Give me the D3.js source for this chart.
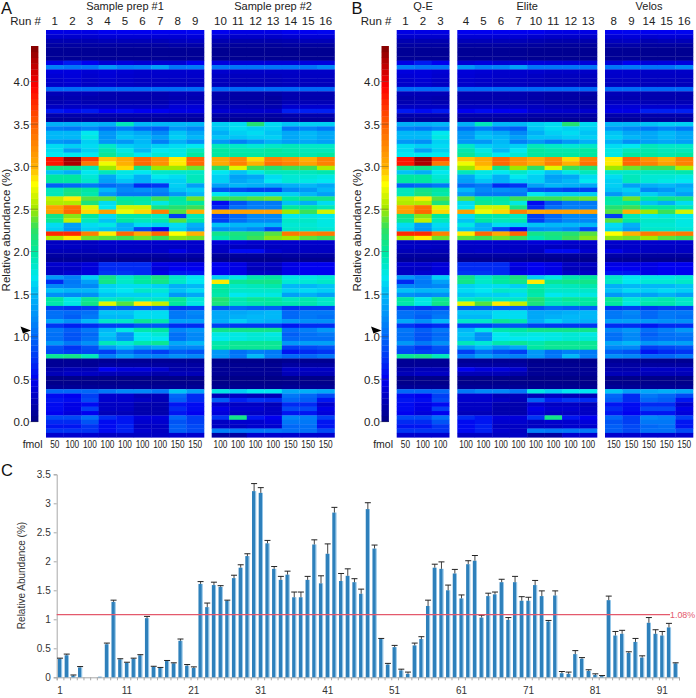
<!DOCTYPE html>
<html><head><meta charset="utf-8">
<script src="https://cdnjs.cloudflare.com/ajax/libs/d3/7.8.5/d3.min.js"></script>
<style>html,body{margin:0;padding:0;background:#fff}svg{display:block}text{font-family:"Liberation Sans",Arial,sans-serif}</style>
</head><body><div id="c"></div>
<script>
// run numbers and heat values: one row per protein (top to bottom), one value per run 1..16
const runs=d3.range(1,17);
const fmol={1:50,2:100,3:100,4:100,5:100,6:100,7:100,8:150,9:150,10:100,11:100,12:100,13:100,14:150,15:150,16:150};
const heat=[
[.45,.45,.45,.5,.5,.5,.5,.5,.52,.5,.45,.45,.45,.5,.5,.52],
[.35,.35,.35,.38,.38,.38,.38,.38,.4,.35,.33,.33,.33,.36,.38,.38],
[.22,.22,.22,.25,.25,.25,.25,.28,.3,.22,.2,.2,.2,.22,.25,.25],
[.15,.15,.15,.15,.15,.15,.15,.18,.18,.14,.12,.12,.12,.14,.14,.14],
[.1,.1,.1,.1,.1,.1,.1,.1,.1,.08,.08,.08,.08,.08,.08,.08],
[.1,.1,.1,.1,.1,.1,.1,.1,.1,.08,.08,.08,.08,.08,.08,.08],
[.1,.1,.1,.1,.1,.1,.1,.1,.1,.08,.08,.08,.08,.08,.08,.08],
[.45,.62,.5,.38,.42,.38,.38,.38,.5,.42,.4,.4,.4,.4,.42,.42],
[1.15,1.08,1.08,1.3,1.15,1.18,1.35,1.08,1.12,1.08,1.08,1.08,1.08,1.08,1.08,1.2],
[.42,.42,.38,.4,.38,.35,.35,.35,.35,.35,.32,.32,.32,.32,.32,.32],
[.38,.4,.35,.38,.35,.33,.33,.33,.33,.3,.28,.28,.28,.3,.3,.3],
[.35,.38,.32,.35,.33,.3,.3,.3,.3,.28,.26,.26,.26,.28,.28,.28],
[.33,.35,.3,.33,.3,.28,.28,.28,.28,.26,.24,.24,.24,.26,.26,.26],
[1.02,1.02,1.02,1.02,1.02,1.02,1.02,1.02,1.02,1.0,1.0,1.0,1.0,1.0,1.0,1.0],
[.25,.25,.25,.22,.22,.22,.22,.25,.25,.2,.18,.18,.18,.22,.22,.22],
[.2,.22,.2,.2,.2,.2,.2,.22,.22,.18,.16,.16,.14,.2,.2,.2],
[.22,.25,.22,.22,.22,.22,.22,.28,.28,.2,.18,.18,.16,.24,.24,.24],
[.3,.3,.3,.3,.3,.3,.3,.38,.38,.28,.25,.24,.22,.35,.35,.35],
[.62,.55,.62,.5,.55,.5,.5,.45,.45,.36,.34,.34,.34,.65,.65,.65],
[.2,.2,.2,.2,.2,.2,.2,.2,.2,.18,.18,.18,.16,.2,.2,.2],
[.12,.12,.12,.12,.12,.12,.12,.12,.12,.1,.1,.1,.1,.12,.12,.12],
[1.45,1.45,1.5,1.45,1.9,1.5,1.5,1.5,1.5,1.6,1.65,2.2,1.65,1.55,1.6,1.6],
[1.15,1.1,1.2,1.05,1.15,1.0,.95,1.3,1.2,1.55,1.65,1.6,1.6,1.1,1.2,1.1],
[1.5,1.5,1.7,1.3,1.5,1.4,1.2,1.55,1.4,1.45,1.6,1.65,1.55,1.4,1.5,1.4],
[1.5,1.5,1.75,1.3,1.55,1.5,1.35,1.6,1.5,1.55,1.55,1.6,1.6,1.4,1.5,1.4],
[1.3,1.25,1.6,1.3,1.3,1.5,1.15,1.45,1.25,1.3,1.15,1.3,1.45,1.35,1.4,1.35],
[1.65,1.6,1.65,1.85,1.6,1.55,1.6,1.65,1.7,1.9,1.85,1.8,1.85,1.9,1.85,1.85],
[1.65,1.35,1.6,1.95,1.75,1.5,1.7,1.75,1.9,2.0,1.95,1.95,2.0,1.95,1.9,1.9],
[1.7,1.7,1.7,2.05,1.85,1.7,1.8,1.75,2.0,2.0,2.0,2.0,2.0,2.0,1.95,2.0],
[3.85,4.3,3.65,2.95,3.05,3.45,3.2,2.85,3.45,3.05,3.25,2.9,3.3,3.2,3.0,3.3],
[3.85,4.25,3.35,2.75,3.0,3.45,3.2,2.85,3.45,3.05,3.3,3.0,3.4,3.3,3.1,3.3],
[2.1,2.1,1.9,2.5,2.9,2.1,2.5,2.5,2.4,2.25,2.7,2.3,2.2,2.3,2.3,2.55],
[1.55,1.45,1.7,1.9,1.75,1.7,1.85,1.85,1.85,1.7,1.55,1.75,1.9,1.9,1.9,1.95],
[2.0,2.0,1.8,1.4,1.65,1.45,1.7,1.65,1.9,1.6,1.35,1.4,1.65,1.8,1.8,1.75],
[2.0,2.0,1.85,1.35,1.55,1.45,1.6,1.6,1.9,1.6,1.4,1.5,1.7,1.8,1.75,1.7],
[.95,1.0,1.1,1.0,1.1,.7,.75,1.6,1.35,1.35,1.5,1.45,1.4,1.45,1.5,1.4],
[1.9,2.1,2.0,1.5,1.2,1.25,1.2,1.55,1.6,.9,.85,.8,.8,1.2,1.3,1.5],
[1.9,2.15,1.95,1.3,1.1,1.1,1.1,1.3,1.5,1.7,1.6,1.6,1.6,1.6,1.5,1.35],
[2.6,2.85,2.35,2.35,2.0,2.0,2.3,2.0,2.4,2.3,2.3,2.35,2.4,2.0,2.1,2.1],
[2.55,2.55,2.15,1.65,2.05,1.95,1.75,1.95,2.0,.55,.9,1.1,1.1,1.55,1.45,1.65],
[3.1,3.4,2.7,1.7,2.65,2.65,2.1,2.2,2.3,.7,1.05,1.15,1.15,2.0,2.0,1.9],
[3.1,3.45,2.9,3.1,2.75,2.9,3.3,2.35,3.0,3.05,3.1,3.1,3.1,2.5,2.3,2.65],
[2.1,2.45,2.0,1.65,1.95,1.95,1.85,.8,1.9,.8,1.0,1.2,1.2,1.7,1.75,1.7],
[2.05,2.6,1.9,1.55,2.0,1.9,1.95,2.35,2.0,.8,1.05,1.2,1.2,1.85,1.85,1.75],
[1.65,1.35,1.65,1.75,1.45,1.65,1.6,1.65,1.45,1.55,1.5,1.5,1.5,1.8,1.8,1.75],
[1.6,1.3,1.6,1.55,1.45,.85,.55,1.6,1.35,1.25,1.3,1.2,.85,1.85,1.85,1.8],
[3.75,3.75,3.3,2.85,3.45,3.05,3.45,2.8,3.0,2.1,2.15,2.2,2.35,3.35,3.3,3.35],
[2.55,2.85,2.4,2.35,2.3,2.4,2.3,2.45,2.4,1.95,2.1,2.3,2.45,2.5,2.35,2.3],
[.3,.3,.3,.35,.35,.35,.35,.35,.35,.4,.4,.35,.35,.35,.35,.35],
[.3,.3,.28,.3,.3,.3,.3,.3,.32,.3,.28,.28,.28,.3,.3,.3],
[.25,.25,.25,.3,.32,.32,.32,.45,.35,.3,.55,.55,.35,.3,.3,.3],
[.15,.15,.15,.15,.15,.15,.15,.18,.18,.12,.12,.12,.12,.15,.15,.15],
[.1,.1,.1,.08,.08,.08,.08,.1,.1,.06,.06,.06,.06,.08,.08,.08],
[.35,.35,.4,.7,.7,.7,.45,.45,.45,.5,.45,.3,.3,.45,.5,.5],
[.3,.3,.4,.7,.7,.7,.4,.5,.5,.5,.45,.25,.25,.45,.5,.5],
[.3,.35,.4,.75,.75,.7,.45,.6,.6,.5,.45,.3,.3,.45,.5,.5],
[1.3,1.15,1.6,2.1,1.85,2.0,2.15,1.85,1.7,1.6,1.75,1.95,2.0,1.75,1.75,1.8],
[.7,1.1,1.35,2.1,1.85,2.0,2.1,1.85,1.7,2.85,2.05,2.1,2.1,1.8,1.8,1.85],
[1.2,1.15,1.2,1.6,1.65,1.65,1.6,1.45,1.5,1.95,1.85,1.9,1.95,1.5,1.5,1.55],
[1.55,1.5,1.5,1.65,1.7,1.85,1.8,1.55,1.65,2.0,1.85,1.85,1.85,1.6,1.65,1.6],
[1.25,1.2,1.25,1.55,1.6,1.6,1.65,1.3,1.4,1.95,1.7,1.75,1.75,1.35,1.45,1.35],
[2.0,1.75,2.05,1.85,1.9,1.85,1.85,2.05,1.8,2.2,1.95,2.05,2.0,1.9,1.95,1.85],
[1.95,1.75,2.1,2.7,2.35,2.85,2.6,2.0,1.75,2.15,1.9,1.95,2.0,1.95,1.95,1.85],
[.8,.75,.8,.95,.95,.95,.95,.75,.8,.9,1.0,.95,.95,.75,.8,.8],
[1.05,1.0,1.05,1.55,1.55,1.65,1.65,1.1,1.2,1.4,1.4,1.45,1.5,1.0,1.1,1.1],
[1.05,.95,1.1,1.5,1.5,1.65,1.65,1.1,1.15,1.4,1.45,1.5,1.5,1.0,1.1,1.05],
[1.4,1.25,1.5,1.85,1.85,2.05,1.95,1.35,1.35,1.45,1.6,1.5,1.45,1.3,1.25,1.25],
[.75,.65,.7,.8,.8,.9,.9,.7,.7,.8,.75,.75,.75,.6,.7,.7],
[1.1,.95,1.1,1.5,1.75,1.95,2.0,1.2,1.3,2.1,2.1,2.1,2.1,1.05,1.15,1.3],
[1.05,.9,1.0,1.55,1.25,1.7,1.8,1.05,1.2,1.75,1.75,1.8,1.75,.95,1.05,1.1],
[1.05,.9,1.05,1.5,1.25,1.7,1.7,1.05,1.2,1.7,1.75,1.8,1.8,1.0,1.05,1.05],
[1.3,1.1,1.25,1.9,1.8,1.95,2.05,1.4,1.5,1.95,2.05,2.05,2.05,1.3,1.35,1.35],
[.9,.75,.9,1.3,1.5,1.3,1.4,1.2,1.2,2.0,2.05,2.05,2.05,.8,.85,.9],
[.85,.8,.85,.8,1.05,.9,.8,.95,.9,1.3,1.05,1.15,1.1,.6,.7,.75],
[2.05,2.1,1.9,1.15,1.35,1.2,1.15,1.25,1.2,1.3,1.1,1.5,1.15,1.0,1.0,1.1],
[.1,.1,.1,.1,.1,.1,.1,.1,.1,.05,.05,.05,.05,.08,.08,.08],
[.1,.1,.1,.15,.15,.15,.15,.15,.15,.08,.08,.08,.08,.15,.15,.15],
[.2,.25,.25,.5,.4,.4,.35,.2,.2,.1,.1,.1,.1,.3,.3,.3],
[.25,.3,.3,.25,.25,.25,.2,.25,.25,.1,.1,.1,.1,.25,.25,.25],
[.05,.05,.05,.05,.05,.05,.05,.05,.05,.04,.04,.04,.04,.05,.05,.05],
[.05,.05,.05,.05,.05,.05,.05,.05,.05,.04,.04,.04,.04,.05,.05,.05],
[.1,.1,.1,.1,.1,.1,.1,.1,.1,.08,.08,.08,.08,.1,.1,.1],
[1.0,1.0,1.0,1.1,1.2,1.2,1.1,1.55,1.35,1.75,1.6,1.7,1.7,1.4,1.45,1.4],
[.55,.5,.8,.35,.35,.25,.25,1.0,.7,.25,.3,.25,.25,1.1,1.0,.85],
[.6,.55,.85,.35,.35,.3,.25,.95,.7,.95,.65,.75,.7,1.0,.95,.6],
[.55,.45,.55,.3,.3,.2,.2,.6,.55,.35,.3,.3,.25,.7,.7,.35],
[.55,.45,.8,.3,.3,.2,.2,.7,.55,.45,.35,.35,.3,.85,.85,.45],
[.5,.4,.5,.25,.25,.2,.2,.6,.5,.4,.3,.3,.3,.6,.6,.4],
[.85,.85,1.05,.7,.6,.4,.4,1.0,.8,.75,2.1,.6,.5,1.2,1.15,.8],
[.7,.7,.9,.55,.6,.35,.35,.9,.8,.3,.35,.35,.4,1.1,1.1,.6],
[.6,.6,.75,.55,.65,.3,.3,.95,.85,.3,.3,.35,.35,1.0,1.05,.6],
[.75,.75,.75,.55,.65,.35,.3,.95,.85,1.15,1.1,1.1,1.1,1.05,1.05,.85],
[.35,.35,.35,.3,.3,.3,.3,.35,.35,.15,.15,.35,.35,.35,.35,.35]
];
// bar chart: mean abundance and top of error bar for positions 1..93
const barValues=[.32,.38,.03,.17,0,0,.01,.57,1.3,.31,.25,.32,.38,1.02,.18,.16,.28,.24,.63,.2,.16,1.61,1.21,1.59,1.56,1.32,1.71,1.89,2.09,3.21,3.18,2.31,1.87,1.68,1.77,1.38,1.38,1.68,2.29,1.62,2.13,2.84,1.66,1.75,1.64,1.44,2.9,2.22,.66,.22,.52,.12,.06,.55,.66,1.23,1.89,1.87,1.5,1.79,1.36,1.95,2.01,1.03,1.4,1.43,1.64,.99,1.64,1.32,1.32,1.59,1.4,.96,1.41,.07,.06,.4,.32,.11,.04,.02,1.33,.72,.75,.42,.61,.34,.94,.75,.72,.86,.24];
const barTops=[.33,.4,.04,.185,0,0,.01,.59,1.33,.32,.26,.33,.39,1.05,.19,.17,.29,.25,.66,.22,.18,1.65,1.28,1.64,1.58,1.33,1.76,1.94,2.13,3.34,3.27,2.36,1.91,1.74,1.83,1.47,1.47,1.74,2.37,1.75,2.3,2.93,1.79,1.87,1.7,1.52,3.01,2.28,.67,.24,.55,.14,.09,.59,.7,1.33,1.95,1.99,1.59,1.86,1.42,2.01,2.1,1.07,1.45,1.47,1.69,1.03,1.74,1.39,1.38,1.67,1.49,.98,1.49,.1,.09,.46,.34,.13,.06,.03,1.4,.79,.81,.44,.67,.37,1.03,.82,.79,.93,.25];
const threshold=1.08;
const yTicks=[0,.5,1,1.5,2,2.5,3,3.5];
const xLabels=[1,11,21,31,41,51,61,71,81,91];
const cbTicks=[0,.5,1,1.5,2,2.5,3,3.5,4];
const cmapStops=[0,.5,1.0,1.5,1.7,2.0,2.28,2.5,2.8,3.0,3.5,3.95,4.42];
const cmapColors=["#000080","#0000f0","#0068f8","#00b8f8","#00e8f0","#00e8a0","#30e060","#a0e800","#ffff00","#ffb000","#ff6000","#ff0000","#800000"];
const panels=[
 {letter:"A",dx:0,blocks:[
  {name:"Sample prep #1",runs:[1,2,3,4,5,6,7,8,9],x0:46,x1:204},
  {name:"Sample prep #2",runs:[10,11,12,13,14,15,16],x0:211.7,x1:334.5}]},
 {letter:"B",dx:350.5,blocks:[
  {name:"Q-E",runs:[1,2,3],x0:396.7,x1:449.2},
  {name:"Elite",runs:[4,5,6,7,10,11,12,13],x0:457.3,x1:597},
  {name:"Velos",runs:[8,9,14,15,16],x0:605,x1:693}]}
];
const W=696,H=698;
const svg=d3.select("#c").append("svg").attr("width",W).attr("height",H);
const color=d3.scaleLinear().domain(cmapStops).range(cmapColors).clamp(true);
const yRow=d3.scaleBand().domain(d3.range(heat.length)).range([30,437.3]);
const yCb=d3.scaleLinear().domain([0,4.42]).range([421.7,46]);

panels.forEach(p=>{
  const g=svg.append("g");
  g.append("text").attr("x",p.dx+1).attr("y",14).attr("font-size",16.5).attr("fill","#111").text(p.letter);
  g.append("text").attr("x",41+p.dx).attr("y",25).attr("text-anchor","end").attr("font-size",11.5).attr("fill","#222").text("Run #");
  g.append("text").attr("x",42.5+p.dx).attr("y",225+670/3).attr("text-anchor","end").attr("font-size",10.5).attr("fill","#222").text("fmol");
  p.blocks.forEach(b=>{
    const x=d3.scaleBand().domain(b.runs).range([b.x0,b.x1]);
    const hm=g.append("g").style("filter","blur(0.45px)");
    b.runs.forEach(r=>{
      hm.selectAll(null).data(heat).join("rect")
        .attr("x",x(r)).attr("width",x.bandwidth()+.3)
        .attr("y",(d,i)=>yRow(i)).attr("height",yRow.bandwidth()+.3)
        .attr("fill",d=>color(d[r-1]));
    });
    g.append("text").attr("x",(b.x0+b.x1)/2).attr("y",10).attr("text-anchor","middle").attr("font-size",11).attr("fill","#222").text(b.name);
    g.selectAll(null).data(b.runs).join("text").attr("x",r=>x(r)+x.bandwidth()/2).attr("y",25)
      .attr("text-anchor","middle").attr("font-size",11.5).attr("fill","#222").text(r=>r);
    g.selectAll(null).data(b.runs).join("text").attr("x",r=>x(r)+x.bandwidth()/2).attr("y",225+670/3)
      .attr("text-anchor","middle").attr("font-size",10).attr("fill","#222").attr("textLength",r=>String(fmol[r]).length*4.6).attr("lengthAdjust","spacingAndGlyphs").text(r=>fmol[r]);
  });
  // colour bar
  const levels=d3.range(64).map(i=>i/64*4.42);
  const cb=g.append("g").style("filter","blur(0.35px)");
  cb.selectAll("rect").data(levels).join("rect").attr("x",31+p.dx).attr("width",7.4)
    .attr("y",d=>yCb(d+4.42/64)).attr("height",(yCb(0)-yCb(4.42/64))+.3).attr("fill",d=>color(d+2.21/64));
  g.selectAll(null).data(cbTicks).join("line").attr("x1",29.5+p.dx).attr("x2",38+p.dx)
    .attr("y1",d=>yCb(d)).attr("y2",d=>yCb(d)).attr("stroke","#444").attr("stroke-width",.6).attr("opacity",.7);
  g.selectAll(null).data(cbTicks).join("text").attr("x",29.5+p.dx).attr("y",d=>yCb(d)+4.5)
    .attr("text-anchor","end").attr("font-size",11.5).attr("fill","#222").text(d=>d3.format(".1f")(d));
  g.append("text").attr("transform",`translate(${10+p.dx},230) rotate(-90)`).attr("text-anchor","middle")
    .attr("font-size",11.5).attr("fill","#222").text("Relative abundance (%)");
  const ay=yCb(threshold),ax=20.5+p.dx;
  g.append("path").attr("d",`M${ax},${ay-3.5}L${ax+10.5},${ay+.5}L${ax+2.5},${ay+3.5}Z`).attr("fill","#000");
});

// panel C
const gc=svg.append("g");
gc.append("text").attr("x",1).attr("y",476).attr("font-size",16.5).attr("fill","#111").text("C");
const xB=d3.scaleBand().domain(d3.range(1,94)).range([56.7,679]);
const xE=d3.scaleLinear().domain([0,93]).range([56.7,679]);
const yB=d3.scaleLinear().domain([0,3.5]).range([677.3,474.3]);
const yAxis=d3.axisLeft(yB).tickValues(yTicks).tickSize(3).tickFormat(d3.format("~g"));
const ya=gc.append("g").attr("transform","translate(56.7,0)").call(yAxis);
const xa=gc.append("g").attr("transform","translate(0,677.3)").call(d3.axisBottom(xE).tickValues(d3.range(0,94)).tickSize(3).tickFormat(""));
[ya,xa].forEach(a=>{a.selectAll("path,line").attr("stroke","#a8a8a8");a.select("path").attr("stroke-width",1);});
ya.selectAll("text").attr("font-size",10).attr("fill","#333").attr("font-family","Liberation Sans");
const xl=gc.append("g").attr("transform","translate(0,677.3)").call(d3.axisBottom(xB).tickValues(xLabels).tickSize(0).tickPadding(10));
xl.select("path").remove();
xl.selectAll("text").attr("font-size",10).attr("fill","#333").attr("font-family","Liberation Sans");
gc.append("text").attr("transform","translate(25,575.5) rotate(-90)").attr("text-anchor","middle").attr("font-size",10).attr("fill","#333").text("Relative Abundance (%)");
const idx=d3.range(1,94);
const bw=4.2;
gc.selectAll("rect.bar").data(idx).join("rect").attr("class","bar")
  .attr("x",d=>xB(d)+xB.bandwidth()/2-bw/2).attr("width",bw-.8)
  .attr("y",d=>yB(barValues[d-1])).attr("height",d=>yB(0)-yB(barValues[d-1]))
  .attr("fill","#2e80bb");
gc.selectAll("rect.edge").data(idx).join("rect").attr("class","edge")
  .attr("x",d=>xB(d)+xB.bandwidth()/2+bw/2-.8).attr("width",.8)
  .attr("y",d=>yB(barValues[d-1])).attr("height",d=>yB(0)-yB(barValues[d-1]))
  .attr("fill","#7fbbe4");
gc.selectAll("line.err").data(idx.filter(d=>barTops[d-1]>0.02)).join("line").attr("class","err")
  .attr("x1",d=>xB(d)+xB.bandwidth()/2).attr("x2",d=>xB(d)+xB.bandwidth()/2)
  .attr("y1",d=>yB(barValues[d-1])).attr("y2",d=>yB(barTops[d-1])).attr("stroke","#444").attr("stroke-width",1);
gc.selectAll("line.cap").data(idx.filter(d=>barTops[d-1]>0.02)).join("line").attr("class","cap")
  .attr("x1",d=>xB(d)+xB.bandwidth()/2-3).attr("x2",d=>xB(d)+xB.bandwidth()/2+3)
  .attr("y1",d=>yB(barTops[d-1])).attr("y2",d=>yB(barTops[d-1])).attr("stroke","#222").attr("stroke-width",1);
gc.append("line").attr("x1",56.7).attr("x2",670).attr("y1",yB(threshold)).attr("y2",yB(threshold)).attr("stroke","#e4596c").attr("stroke-width",1.1);
gc.append("text").attr("x",670).attr("y",yB(threshold)+3.4).attr("font-size",8.9).attr("fill","#e4596c").text(threshold.toFixed(2)+"%");
</script></body></html>
